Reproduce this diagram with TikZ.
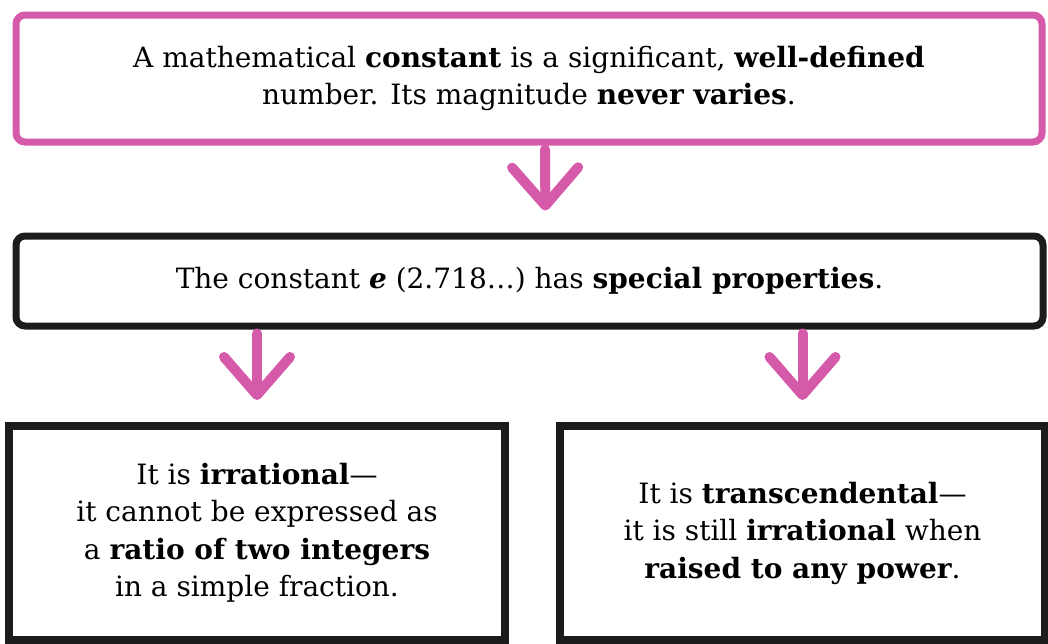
\documentclass[tikz,border=0pt]{standalone}
\usepackage{fontspec}
\setmainfont{DejaVu Serif}
\usetikzlibrary{arrows.meta}

\definecolor{pinkink}{RGB}{214,90,170}
\definecolor{darkink}{RGB}{28,28,28}

\begin{document}
\begin{tikzpicture}[x=1pt, y=-1pt,
  box/.style={draw=darkink, line width=7pt, fill=white, inner sep=0pt,
    align=center, font=\fontsize{28}{37.5}\selectfont},
  roundbox/.style={box, rounded corners=9pt},
  pinkarr/.style={draw=pinkink, line width=10pt, line cap=round,
    -{Straight Barb[length=38pt, width=66pt, round]},
    shorten <=4pt, shorten >=22pt}
]

% Page frame
\useasboundingbox (0,0) rectangle (1048,643);

% Definition box (pink)
\node[roundbox, draw=pinkink, minimum width=1026pt, minimum height=127pt]
  (defn) at (529,78.5)
  {A mathematical \textbf{constant} is a significant, \textbf{well-defined}\\
   number. Its magnitude \textbf{never varies}.};

% The constant e
\node[roundbox, minimum width=1027pt, minimum height=90pt]
  (props) at (529.5,281)
  {The constant \textbf{\textit{e}} (2.718…) has \textbf{special properties}.};

% Two properties
\node[box, line width=8pt, minimum width=496pt, minimum height=214pt]
  (irrat) at (257,533)
  {It is \textbf{irrational}---\\
   it cannot be expressed as\\
   a \textbf{ratio of two integers}\\
   in a simple fraction.};
\node[box, line width=8pt, minimum width=485pt, minimum height=214pt]
  (transc) at (802.5,533)
  {It is \textbf{transcendental}---\\
   it is still \textbf{irrational} when\\
   \textbf{raised to any power}.};

% Arrows
\draw[pinkarr] ([xshift=16pt]defn.south) -- ([xshift=16pt]props.north);
\draw[pinkarr] (props.south -| irrat.north) -- (irrat.north);
\draw[pinkarr] (props.south -| transc.north) -- (transc.north);

\end{tikzpicture}
\end{document}
